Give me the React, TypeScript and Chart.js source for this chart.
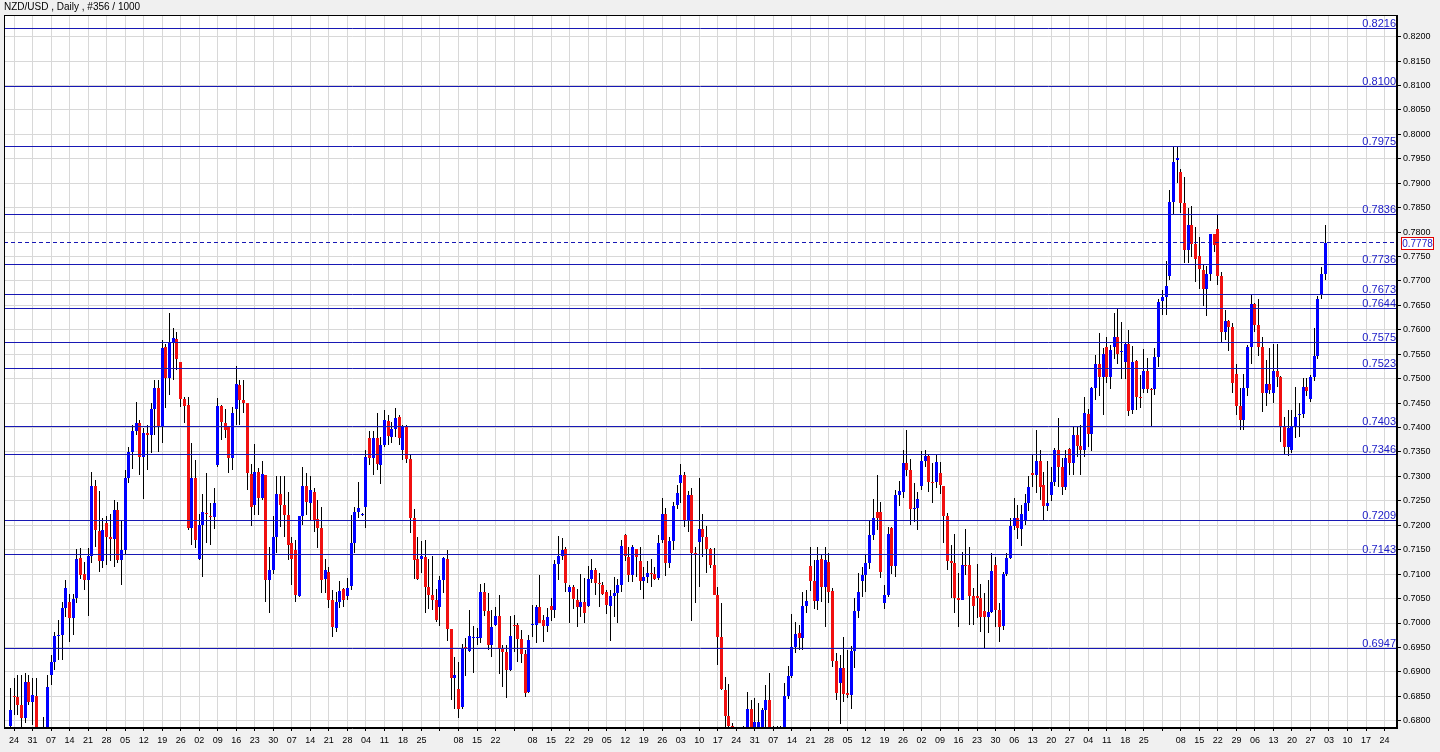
import React, { useEffect, useRef } from "react";
import { Chart, registerables, BarController, BarElement } from "chart.js";

// ---------- data (prices × 10000) ----------
const PRICE_SCALE = 10000;
const TITLE = "NZD/USD , Daily , #356 / 1000";

const opens = [
  6790,6851,6849,6832,6805,6880,6839,6850,6770,6770,
  6780,6893,6921,6973,6975,7030,7042,7011,7052,7134,
  7100,7088,7137,7280,7189,7126,7205,7177,7171,7231,
  7129,7149,7296,7351,7392,7409,7339,7388,7384,7439,
  7482,7403,7564,7501,7574,7581,7535,7458,7446,7194,
  7296,7132,7201,7226,7219,7216,7323,7444,7410,7403,
  7337,7437,7487,7456,7450,7305,7241,7310,7255,7303,
  7088,7109,7176,7264,7241,7221,7163,7149,7055,7218,
  7280,7245,7269,7212,7194,7091,7105,7047,6990,7044,
  7070,7055,7076,7163,7228,7223,7238,7378,7337,7378,
  7323,7364,7414,7381,7398,7421,7354,7402,7335,7214,
  7130,7130,7136,7073,7057,7048,7032,7088,7132,6987,
  6887,6864,6829,6950,6943,6970,6970,6970,7064,7025,
  6955,6996,7014,6946,6941,6904,6996,6996,6968,6936,
  6859,6996,6996,7032,7006,6994,7035,7027,7121,7137,
  7151,7064,7074,7048,7033,7044,7035,7091,7108,7082,
  7078,7064,7035,7056,7062,7078,7180,7136,7098,7151,
  7127,7085,7094,7103,7100,7092,7170,7223,7123,7168,
  7242,7286,7303,7209,7262,7143,7166,7192,7177,7151,
  7119,7057,6972,6863,6810,6790,6770,6775,6765,6784,
  6823,6784,6784,6785,6822,6842,6785,6770,6780,6780,
  6851,6892,6950,6980,6969,7035,7117,7086,7045,7130,
  7074,7125,7066,6923,6877,6907,6857,6853,6943,7025,
  7085,7098,7122,7180,7228,7228,7040,7057,7194,7117,
  7262,7269,7327,7313,7233,7236,7280,7332,7342,7289,
  7289,7308,7281,7218,7126,7122,7052,7048,7119,7119,
  7055,7055,7052,7025,7013,7023,7119,7027,6993,7100,
  7134,7199,7214,7192,7211,7245,7308,7303,7332,7282,
  7240,7262,7289,7354,7320,7278,7356,7328,7385,7362,
  7354,7428,7387,7480,7530,7503,7564,7503,7564,7586,
  7554,7535,7572,7435,7537,7463,7478,7516,7478,7478,
  7544,7660,7668,7710,7862,7948,7924,7859,7763,7815,
  7776,7751,7722,7683,7714,7796,7806,7710,7596,7619,
  7605,7510,7444,7415,7480,7564,7653,7610,7564,7470,
  7489,7470,7516,7504,7403,7361,7354,7403,7425,7427,
  7484,7458,7504,7546,7671,7714,
];

const highs = [
  6866,6887,6893,6893,6897,6893,6887,6887,6780,6808,
  6893,6935,6982,7006,7044,7088,7060,7060,7151,7153,
  7124,7153,7309,7293,7270,7214,7218,7224,7252,7248,
  7211,7313,7361,7405,7453,7416,7400,7405,7450,7497,
  7497,7579,7572,7635,7603,7596,7535,7463,7463,7368,
  7333,7224,7265,7308,7245,7276,7460,7446,7439,7403,
  7443,7525,7497,7497,7450,7325,7366,7317,7332,7303,
  7156,7219,7300,7300,7301,7269,7177,7170,7218,7319,
  7306,7300,7276,7252,7238,7130,7115,7068,7064,7085,
  7072,7093,7221,7238,7289,7226,7354,7393,7392,7429,
  7380,7436,7426,7412,7441,7426,7405,7405,7344,7233,
  7177,7167,7170,7130,7137,7069,7096,7136,7149,6987,
  6931,6921,6958,6969,7027,6993,6990,7080,7081,7061,
  7027,7033,7057,6955,6955,7014,7016,7000,6986,6945,
  6975,7037,7037,7098,7016,7030,7051,7129,7178,7173,
  7155,7078,7078,7069,7100,7092,7117,7132,7112,7102,
  7083,7068,7068,7095,7091,7170,7183,7156,7160,7151,
  7156,7115,7126,7132,7115,7180,7255,7235,7177,7248,
  7282,7325,7310,7271,7276,7156,7296,7223,7199,7153,
  7153,7074,7040,6890,6875,6795,6785,6782,6790,6859,
  6842,6846,6836,6827,6873,6898,6790,6790,6790,6877,
  6911,7018,7003,6996,7064,7067,7156,7129,7156,7139,
  7155,7143,7071,6938,6934,6971,6945,6952,7052,7102,
  7115,7139,7211,7253,7303,7248,7078,7197,7197,7272,
  7290,7354,7396,7335,7286,7269,7353,7354,7344,7327,
  7344,7330,7281,7225,7160,7182,7102,7146,7192,7155,
  7071,7121,7080,7062,7088,7143,7136,7040,7105,7143,
  7214,7255,7242,7242,7264,7301,7344,7395,7354,7310,
  7332,7320,7358,7419,7337,7354,7358,7403,7403,7405,
  7462,7439,7484,7549,7593,7562,7586,7569,7634,7644,
  7617,7576,7600,7566,7538,7508,7560,7542,7480,7562,
  7664,7682,7740,7886,7976,7976,7930,7913,7849,7853,
  7810,7790,7735,7731,7797,7797,7835,7719,7641,7620,
  7615,7531,7482,7510,7570,7671,7654,7664,7586,7538,
  7562,7572,7572,7505,7422,7436,7436,7484,7450,7501,
  7501,7508,7603,7669,7729,7814,
];

const lows = [
  6770,6812,6812,6785,6795,6832,6791,6760,6740,6750,
  6760,6873,6904,6924,6924,7013,6962,6975,7040,7091,
  7067,7014,7122,7156,7105,7112,7119,7126,7115,7122,
  7078,7142,7286,7316,7385,7303,7253,7313,7347,7385,
  7351,7368,7441,7467,7497,7518,7443,7410,7190,7160,
  7153,7129,7095,7163,7160,7192,7320,7375,7378,7306,
  7313,7405,7405,7429,7272,7199,7221,7221,7252,7042,
  7021,7100,7143,7197,7177,7129,7078,7042,7053,7201,
  7221,7211,7187,7153,7062,7062,7030,6972,6982,7030,
  7033,7048,7068,7143,7214,7220,7194,7323,7303,7313,
  7284,7361,7364,7368,7381,7364,7334,7327,7184,7091,
  7089,7102,7021,7028,7027,7003,6993,7061,6964,6842,
  6825,6805,6825,6892,6941,6897,6955,6960,7014,6945,
  6930,6993,6896,6868,6846,6902,6941,6921,6918,6849,
  6857,6972,6960,6999,6962,6982,7005,7010,7088,7129,
  7064,6999,7028,6991,7013,7001,7033,7081,7057,7032,
  7057,7018,6964,7013,7001,7064,7126,7083,7083,7095,
  7068,7050,7081,7073,7087,7089,7164,7096,7112,7149,
  7233,7245,7197,7187,7005,7040,7074,7136,7102,7112,
  7057,6914,6863,6788,6770,6755,6750,6745,6755,6775,
  6775,6775,6775,6775,6785,6775,6750,6750,6760,6770,
  6845,6887,6938,6945,6945,7020,7065,7028,7027,7044,
  6991,7040,6910,6842,6793,6839,6846,6823,6907,7010,
  7054,7064,7110,7170,7190,7093,7028,7054,7100,7095,
  7240,7255,7300,7200,7207,7190,7272,7320,7269,7246,
  7276,7265,7164,7108,7051,7021,6991,7047,7098,6996,
  6996,7010,6982,6946,6979,7020,6991,6962,6986,7096,
  7130,7190,7171,7158,7200,7230,7279,7267,7252,7209,
  7230,7250,7280,7279,7262,7272,7303,7303,7340,7303,
  7340,7360,7353,7456,7465,7426,7492,7478,7540,7530,
  7500,7499,7424,7428,7435,7440,7470,7470,7403,7467,
  7523,7630,7630,7703,7838,7900,7840,7736,7737,7750,
  7697,7683,7649,7628,7700,7760,7692,7575,7579,7557,
  7470,7426,7395,7396,7465,7531,7596,7546,7432,7445,
  7469,7450,7484,7371,7344,7342,7347,7378,7381,7420,
  7465,7453,7495,7540,7664,7702,
];

const closes = [
  6822,6849,6832,6805,6880,6839,6853,6770,6760,6780,
  6870,6921,6973,6975,7030,7071,7011,7050,7132,7098,
  7088,7137,7280,7190,7126,7190,7177,7171,7231,7129,
  7149,7296,7351,7392,7410,7339,7388,7384,7439,7482,
  7403,7562,7501,7574,7583,7540,7458,7444,7194,7296,
  7170,7201,7228,7223,7216,7245,7444,7412,7396,7337,
  7430,7489,7456,7450,7306,7238,7310,7255,7305,7088,
  7109,7176,7265,7241,7221,7160,7132,7057,7218,7280,
  7248,7272,7211,7194,7089,7109,7047,6991,7044,7066,
  7048,7072,7163,7228,7235,7224,7340,7337,7378,7325,
  7364,7416,7383,7398,7419,7378,7402,7335,7214,7129,
  7091,7137,7074,7057,7048,7006,7088,7134,6987,6887,
  6894,6825,6948,6946,6973,6971,6972,7064,7025,6955,
  6992,7014,6946,6941,6904,6973,6994,6968,6936,6856,
  6966,6998,7032,7001,6994,7013,7027,7121,7137,7149,
  7081,7073,7050,7033,7044,7021,7091,7108,7082,7080,
  7059,7037,7056,7062,7078,7158,7137,7098,7155,7136,
  7085,7094,7103,7102,7090,7163,7223,7123,7168,7239,
  7267,7303,7209,7262,7143,7139,7192,7177,7151,7119,
  7057,6972,6864,6810,6790,6770,6775,6765,6780,6823,
  6784,6798,6798,6822,6842,6785,6770,6780,6775,6851,
  6892,6950,6977,6969,7035,7045,7086,7045,7129,7074,
  7129,7064,6923,6857,6907,6855,6853,6943,7025,7064,
  7098,7122,7180,7214,7214,7105,7057,7183,7117,7262,
  7270,7327,7313,7233,7236,7253,7332,7342,7289,7287,
  7330,7283,7218,7126,7122,7051,7048,7119,7117,7055,
  7035,7052,7013,7013,7023,7107,7027,6991,7100,7134,
  7199,7214,7194,7223,7245,7279,7303,7332,7279,7240,
  7246,7289,7354,7320,7278,7337,7328,7385,7362,7354,
  7429,7387,7480,7530,7503,7551,7503,7559,7586,7551,
  7557,7572,7433,7535,7463,7461,7516,7478,7476,7544,
  7656,7668,7690,7862,7944,7951,7859,7763,7815,7776,
  7744,7724,7683,7714,7796,7774,7710,7596,7619,7605,
  7492,7444,7415,7480,7564,7653,7610,7564,7470,7489,
  7477,7516,7504,7403,7361,7400,7403,7422,7427,7484,
  7474,7504,7546,7664,7714,7777,
];

// one label every 5 bars (first at bar 1); '' where the terminal shows none
const weekLabels = [
  "24","31","07","14","21","28","05","12","19","26",
  "02","09","16","23","30","07","14","21","28","04",
  "11","18","25","","08","15","22","","08","15",
  "22","29","05","12","19","26","03","10","17","24",
  "31","07","14","21","28","05","12","19","26","02",
  "09","16","23","30","06","13","20","27","04","11",
  "18","25","","08","15","22","29","06","13","20",
  "27","03","10","17","24",
];

const priceTicks = [
  0.68,0.685,0.69,0.695,0.70,0.705,0.71,0.715,0.72,0.725,
  0.73,0.735,0.74,0.745,0.75,0.755,0.76,0.765,0.77,0.775,
  0.78,0.785,0.79,0.795,0.80,0.805,0.81,0.815,0.82,
];

const levelPrices = [0.8216,0.81,0.7975,0.7836,0.7736,0.7673,0.7644,0.7575,0.7523,0.7403,0.7346,0.7209,0.7143,0.6947];
const currentPrice = 0.7778;

// ---------- view constants ----------
const X_MIN = -1.7;
const X_MAX = 374.36;
const Y_MIN = 0.67851;
const Y_MAX = 0.82444;
const PAGE_BG = "#f0f0f0";
const GRID = "#d8d8d8";
const BULL = "#0000ff";
const BEAR = "#f01010";
const LEVEL_LINE = "#1818b4";
const LEVEL_TEXT = "#2020c8";
const FONT = "'Liberation Sans', Arial, sans-serif";

// snap a horizontal 1px line to an even device row (keeps thin colour lines crisp)
const snapRow = (v: number) => 2 * Math.round(v / 2) + 0.5;

// crisp (pixel-snapped) bar element / controller
class CrispBar extends BarElement {
  static id = "crispBar";
  draw(ctx: CanvasRenderingContext2D) {
    const { x, y, base, width } = (this as any).getProps(["x", "y", "base", "width"]);
    const o = (this as any).options;
    const w = Math.max(1, Math.round(width));
    const left = Math.round(x - w / 2);
    const top = Math.round(Math.min(y, base));
    let bottom = Math.round(Math.max(y, base));
    if (bottom - top < 1) bottom = top + 1;
    ctx.save();
    ctx.fillStyle = o.backgroundColor;
    ctx.fillRect(left, top, w, bottom - top);
    ctx.restore();
  }
}
class CandleBarController extends BarController {
  static id = "candleBar";
  static defaults = { ...(BarController as any).defaults, dataElementType: "crispBar" };
}

Chart.register(...registerables, CrispBar as any, CandleBarController as any);

const mtPlugin = {
  id: "mtDecor",
  beforeDraw(chart: any) {
    const { ctx, chartArea: a, width, height } = chart;
    ctx.save();
    ctx.fillStyle = PAGE_BG;
    ctx.fillRect(0, 0, width, height);
    ctx.fillStyle = "#ffffff";
    ctx.fillRect(a.left, a.top, a.right - a.left, a.bottom - a.top);
    ctx.restore();
  },
  afterDatasetsDraw(chart: any) {
    const { ctx, chartArea: a } = chart;
    const ys = chart.scales.y;
    ctx.save();
    ctx.beginPath();
    ctx.rect(a.left, a.top, a.right - a.left, a.bottom - a.top);
    ctx.clip();
    ctx.lineWidth = 1;
    ctx.font = `11px ${FONT}`;
    ctx.textAlign = "right";
    ctx.textBaseline = "alphabetic";
    for (const p of levelPrices) {
      const py = snapRow(ys.getPixelForValue(p));
      ctx.strokeStyle = LEVEL_LINE;
      ctx.beginPath();
      ctx.moveTo(a.left, py);
      ctx.lineTo(a.right, py);
      ctx.stroke();
      ctx.fillStyle = LEVEL_TEXT;
      ctx.fillText(p.toFixed(4), a.right - 1, py - 2);
    }
    const cy = snapRow(ys.getPixelForValue(currentPrice));
    ctx.strokeStyle = LEVEL_LINE;
    ctx.setLineDash([4, 3]);
    ctx.beginPath();
    ctx.moveTo(a.left, cy);
    ctx.lineTo(a.right, cy);
    ctx.stroke();
    ctx.restore();
  },
  afterDraw(chart: any) {
    const { ctx, chartArea: a } = chart;
    const ys = chart.scales.y;
    ctx.save();
    ctx.strokeStyle = "#000";
    ctx.lineWidth = 1;
    ctx.strokeRect(a.left + 0.5, a.top + 0.5, a.right - a.left - 1, a.bottom - a.top - 1);
    ctx.fillStyle = "#000";
    ctx.font = `10px ${FONT}`;
    ctx.textAlign = "left";
    ctx.textBaseline = "middle";
    ctx.fillText(TITLE, 4, 7);
    // current price box
    const cy = Math.round(ys.getPixelForValue(currentPrice));
    const bx = a.right + 4;
    ctx.fillStyle = "#ffffff";
    ctx.fillRect(bx, cy - 6, 33, 13);
    ctx.strokeStyle = "#e00000";
    ctx.strokeRect(bx + 0.5, cy - 5.5, 32, 12);
    ctx.fillStyle = "#2020c8";
    ctx.font = `10px ${FONT}`;
    ctx.textAlign = "center";
    ctx.fillText(currentPrice.toFixed(4), bx + 16.5, cy + 1);
    ctx.restore();
  },
};

export default function App() {
  const ref = useRef<HTMLCanvasElement | null>(null);
  useEffect(() => {
    document.body.style.margin = "0";
    const canvas = ref.current;
    if (!canvas) return;
    const wickData = highs.map((h, i) => ({ x: i, y: [lows[i] / PRICE_SCALE, h / PRICE_SCALE] }));
    const bodyData = opens.map((o, i) => ({ x: i, y: [o / PRICE_SCALE, closes[i] / PRICE_SCALE] }));
    const bodyColors = opens.map((o, i) => (closes[i] >= o ? BULL : BEAR));
    const chart = new Chart(canvas, {
      type: "bar",
      data: {
        datasets: [
          {
            type: "candleBar" as any,
            label: "body",
            data: bodyData as any,
            backgroundColor: bodyColors,
            barThickness: 3,
            grouped: false,
            order: 0,
          } as any,
          {
            type: "candleBar" as any,
            label: "wick",
            data: wickData as any,
            backgroundColor: "#000000",
            barThickness: 1,
            grouped: false,
            order: 1,
          } as any,
        ],
      },
      options: {
        animation: false,
        responsive: false,
        devicePixelRatio: 1,
        layout: { padding: { left: 4, top: 15, right: 0, bottom: 0 } },
        plugins: { legend: { display: false }, tooltip: { enabled: false }, title: { display: false } },
        scales: {
          x: {
            type: "linear",
            min: X_MIN,
            max: X_MAX,
            offset: false,
            afterBuildTicks: (s: any) => {
              s.ticks = weekLabels.map((_, k) => ({ value: 1 + 5 * k }));
            },
            afterFit: (s: any) => {
              s.height = 24;
            },
            ticks: {
              autoSkip: false,
              maxRotation: 0,
              minRotation: 0,
              padding: 4,
              color: "#000",
              font: { family: FONT, size: 9 },
              callback: (_v: any, idx: number) => weekLabels[idx] ?? "",
            },
            grid: { color: GRID, offset: false, tickLength: 3, tickColor: "#000" },
            border: { color: "#000" },
          },
          y: {
            type: "linear",
            position: "right",
            min: Y_MIN,
            max: Y_MAX,
            beginAtZero: false,
            afterBuildTicks: (s: any) => {
              s.ticks = priceTicks.map((v) => ({ value: v }));
            },
            afterFit: (s: any) => {
              s.width = 43;
            },
            ticks: {
              autoSkip: false,
              padding: 2,
              color: "#000",
              font: { family: FONT, size: 9 },
              callback: (v: any) => Number(v).toFixed(4),
            },
            grid: { color: GRID, tickLength: 4, tickColor: "#000" },
            border: { color: "#000" },
          },
        } as any,
      },
      plugins: [mtPlugin],
    });
    return () => chart.destroy();
  }, []);
  return (
    <div style={{ position: "absolute", left: 0, top: 0, width: 1440, height: 752 }}>
      <canvas ref={ref} width={1440} height={752} style={{ width: 1440, height: 752, display: "block" }} />
    </div>
  );
}
